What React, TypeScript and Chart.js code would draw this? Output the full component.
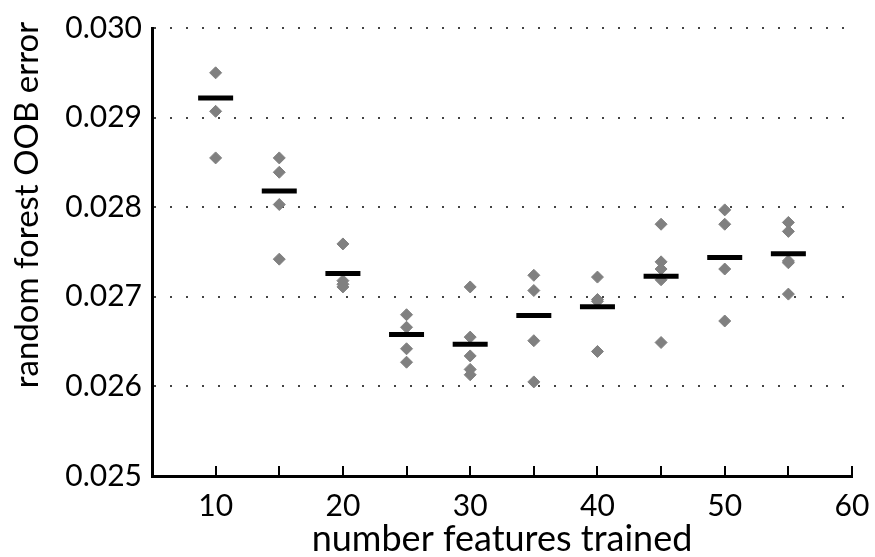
import React, { useEffect, useRef } from "react";
import { Chart, registerables } from "chart.js";

Chart.register(...registerables);

const featureCounts = [10, 15, 20, 25, 30, 35, 40, 45, 50, 55];
const runErrors: number[][] = [
  [0.0295, 0.02907, 0.02855],
  [0.02855, 0.02839, 0.02803, 0.02742],
  [0.02759, 0.02718, 0.02714, 0.02711],
  [0.0268, 0.02666, 0.02642, 0.02627],
  [0.02711, 0.02655, 0.02634, 0.02619, 0.02613],
  [0.02724, 0.02707, 0.02651, 0.02605],
  [0.02722, 0.02697, 0.02695, 0.02639],
  [0.02781, 0.02739, 0.02731, 0.02719, 0.02649],
  [0.02797, 0.02781, 0.02731, 0.02673],
  [0.02783, 0.02773, 0.0274, 0.02738, 0.02703],
];
const meanErrors = [0.02922, 0.02818, 0.02726, 0.02658, 0.02647, 0.02679, 0.02689, 0.02723, 0.02744, 0.02748];
const xLabelStep = 10;
const yTitle = "random forest OOB error";
const xTitle = "number features trained";

const FONT = "Lato";

const innerTicks = {
  id: "innerTicks",
  afterDraw(chart: any) {
    const xs = chart.scales.x;
    const ctx = chart.ctx;
    const bottom = chart.chartArea.bottom;
    ctx.save();
    ctx.strokeStyle = "#000";
    ctx.lineWidth = 2;
    xs.ticks.forEach((t: any) => {
      if (t.value <= xs.min) return;
      const px = Math.round(xs.getPixelForValue(t.value));
      ctx.beginPath();
      ctx.moveTo(px, bottom);
      ctx.lineTo(px, bottom - 10);
      ctx.stroke();
    });
    ctx.restore();
  },
};

const axisTitles = {
  id: "axisTitles",
  afterDraw(chart: any) {
    const ctx = chart.ctx;
    const area = chart.chartArea;
    ctx.save();
    ctx.fillStyle = "#000";
    ctx.textAlign = "center";
    ctx.textBaseline = "alphabetic";
    ctx.font = `36px ${FONT}`;
    ctx.fillText(xTitle, (area.left + area.right) / 2, 551);
    ctx.translate(38, 205);
    ctx.rotate(-Math.PI / 2);
    ctx.font = `33px ${FONT}`;
    ctx.fillText(yTitle, 0, 0);
    ctx.restore();
  },
};

export default function App() {
  const ref = useRef<HTMLCanvasElement>(null);
  useEffect(() => {
    if (!ref.current) return;
    const points: { x: number; y: number }[] = [];
    runErrors.forEach((runs, i) => runs.forEach((v) => points.push({ x: featureCounts[i], y: v })));
    const means = meanErrors.map((v, i) => ({ x: featureCounts[i], y: v }));
    const chart = new Chart(ref.current, {
      type: "scatter",
      data: {
        datasets: [
          {
            label: "mean",
            data: means,
            pointStyle: "line",
            pointRadius: 17.5,
            borderWidth: 5,
            borderColor: "#000",
            backgroundColor: "#000",
            order: 0,
          } as any,
          {
            label: "runs",
            data: points,
            pointStyle: "rectRot",
            pointRadius: 6,
            borderWidth: 1,
            borderColor: "#808080",
            backgroundColor: "#808080",
            order: 1,
          } as any,
        ],
      },
      options: {
        animation: false,
        responsive: false,
        layout: { padding: { top: 26, right: 23, left: 0, bottom: 0 } },
        plugins: { legend: { display: false }, tooltip: { enabled: false } },
        scales: {
          x: {
            type: "linear",
            min: 5,
            max: 60,
            afterFit: (s: any) => {
              s.height = 81;
            },
            ticks: {
              stepSize: 5,
              autoSkip: false,
              maxRotation: 0,
              padding: 4,
              color: "#000",
              font: { family: FONT, size: 30 },
              callback: (v: any) => (Number(v) % xLabelStep === 0 ? String(v) : ""),
            },
            grid: { display: false },
            border: { display: true, color: "#000", width: 3 },
            title: { display: false },
          },
          y: {
            type: "linear",
            min: 0.025,
            max: 0.03,
            afterFit: (s: any) => {
              s.width = 152;
            },
            ticks: {
              stepSize: 0.001,
              padding: 10,
              color: "#000",
              font: { family: FONT, size: 30 },
              callback: (v: any) => Number(v).toFixed(3),
            },
            grid: {
              display: true,
              drawTicks: false,
              lineWidth: 2,
              color: (c: any) => (c.tick && Math.abs(c.tick.value - 0.025) < 1e-9 ? "rgba(0,0,0,0)" : "#444"),
            },
            border: { display: true, color: "#000", width: 3, dash: [2, 14], dashOffset: 0 },
            title: { display: false },
          },
        },
      },
      plugins: [innerTicks, axisTitles],
    } as any);
    return () => chart.destroy();
  }, []);
  return (
    <div style={{ position: "fixed", left: 0, top: 0, width: 875, height: 557, background: "#fff" }}>
      <canvas ref={ref} width={875} height={557} style={{ display: "block" }} />
    </div>
  );
}
